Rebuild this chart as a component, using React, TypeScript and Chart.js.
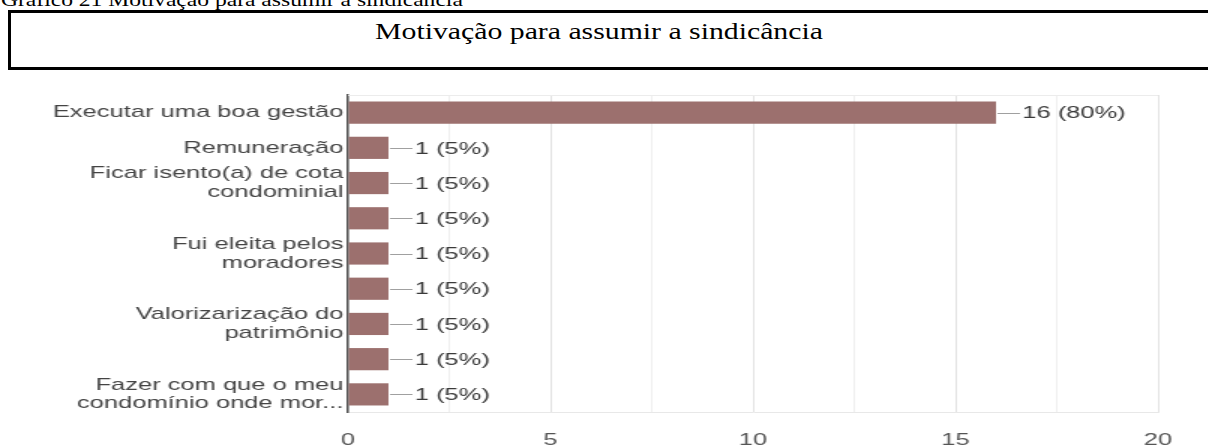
import React, { useEffect, useRef } from "react";
import { Chart, registerables } from "chart.js";

Chart.register(...registerables);

const pageCaption = "Gráfico 21 Motivação para assumir a sindicância";
const chartTitle = "Motivação para assumir a sindicância";

const categories: (string | string[])[] = [
  "Executar uma boa gestão",
  "Remuneração",
  ["Ficar isento(a) de cota", "condominial"],
  "",
  ["Fui eleita pelos", "moradores"],
  "",
  ["Valorizarização do", "patrimônio"],
  "",
  ["Fazer com que o meu", "condomínio onde mor..."],
];
const counts = [16, 1, 1, 1, 1, 1, 1, 1, 1];
const percents = [80, 5, 5, 5, 5, 5, 5, 5, 5];
const xTicks = [0, 5, 10, 15, 20];

const FONT = '"Liberation Sans", Arial, Helvetica, sans-serif';
const SERIF = '"Liberation Serif", "Times New Roman", Times, serif';

const valueLabels = {
  id: "valueLabels",
  afterDatasetsDraw(chart: any) {
    const ctx = chart.ctx;
    const meta = chart.getDatasetMeta(0);
    ctx.save();
    ctx.font = `17px ${FONT}`;
    ctx.textBaseline = "middle";
    ctx.textAlign = "left";
    meta.data.forEach((bar: any, i: number) => {
      const x = bar.x;
      const y = bar.y;
      ctx.strokeStyle = "#a0a0a0";
      ctx.lineWidth = 1;
      ctx.beginPath();
      ctx.moveTo(x + 1, Math.round(y) + 0.5);
      ctx.lineTo(x + 16, Math.round(y) + 0.5);
      ctx.stroke();
      ctx.fillStyle = "#3a3a3a";
      ctx.fillText(`${counts[i]} (${percents[i]}%)`, x + 17.5, y + 1);
    });
    ctx.restore();
  },
};

const topBorder = {
  id: "topBorder",
  beforeDatasetsDraw(chart: any) {
    const { ctx, chartArea } = chart;
    ctx.save();
    ctx.strokeStyle = "#ececec";
    ctx.lineWidth = 1;
    ctx.beginPath();
    ctx.moveTo(chartArea.left, chartArea.top + 0.5);
    ctx.lineTo(chartArea.right, chartArea.top + 0.5);
    ctx.stroke();
    ctx.restore();
  },
};

export default function App() {
  const canvasRef = useRef<HTMLCanvasElement | null>(null);

  useEffect(() => {
    if (!canvasRef.current) return;
    const chart = new Chart(canvasRef.current, {
      type: "bar",
      data: {
        labels: categories,
        datasets: [
          {
            data: counts,
            backgroundColor: "#9c706e",
            borderWidth: 0,
            barPercentage: 0.63,
            categoryPercentage: 1,
          },
        ],
      },
      options: {
        indexAxis: "y",
        animation: false,
        responsive: true,
        maintainAspectRatio: false,
        layout: { padding: { top: 25, right: 33, left: 0, bottom: 0 } },
        plugins: {
          legend: { display: false },
          tooltip: { enabled: false },
          title: { display: false },
        },
        scales: {
          x: {
            type: "linear",
            min: 0,
            max: 20,
            afterFit(scale: any) {
              scale.height = 36;
            },
            ticks: {
              stepSize: 2.5,
              autoSkip: false,
              maxRotation: 0,
              padding: 18,
              color: "#555",
              font: { family: FONT, size: 17 },
              callback: (v: any) => (xTicks.includes(Number(v)) ? String(v) : ""),
            },
            grid: {
              drawTicks: false,
              color: (c: any) => (c.tick && c.tick.value % 5 === 0 ? "#e3e3e3" : "#efefef"),
            },
            border: { display: true, color: "#e8e8e8" },
          },
          y: {
            afterFit(scale: any) {
              scale.width = 232;
            },
            ticks: {
              autoSkip: false,
              padding: 3,
              color: "#444",
              font: { family: FONT, size: 17, lineHeight: 1.1 },
            },
            grid: { display: false, drawTicks: false },
            border: { display: true, color: "#555", width: 1.5 },
          },
        },
      },
      plugins: [valueLabels, topBorder],
    });
    return () => chart.destroy();
  }, []);

  return (
    <div
      style={{
        position: "absolute",
        left: 0,
        top: 0,
        width: 1208,
        height: 448,
        overflow: "hidden",
        background: "#fff",
      }}
    >
      <div
        style={{
          position: "absolute",
          left: 1,
          top: -10,
          fontFamily: SERIF,
          fontSize: 19,
          lineHeight: "19px",
          whiteSpace: "nowrap",
          transform: "scaleX(1.24)",
          transformOrigin: "0 0",
          color: "#000",
        }}
      >
        {pageCaption}
      </div>
      <div
        style={{
          position: "absolute",
          left: 8,
          top: 10,
          width: 1230,
          height: 54,
          border: "3px solid #000",
        }}
      />
      <div
        style={{
          position: "absolute",
          left: 599,
          top: 19,
          fontFamily: SERIF,
          fontSize: 24,
          lineHeight: "24px",
          whiteSpace: "nowrap",
          transform: "translateX(-50%) scaleX(1.24)",
          color: "#000",
        }}
      >
        {chartTitle}
      </div>
      <div
        style={{
          position: "absolute",
          left: 0,
          top: 70,
          width: 805,
          height: 378,
          transform: "scaleX(1.5)",
          transformOrigin: "0 0",
        }}
      >
        <canvas ref={canvasRef} />
      </div>
    </div>
  );
}
